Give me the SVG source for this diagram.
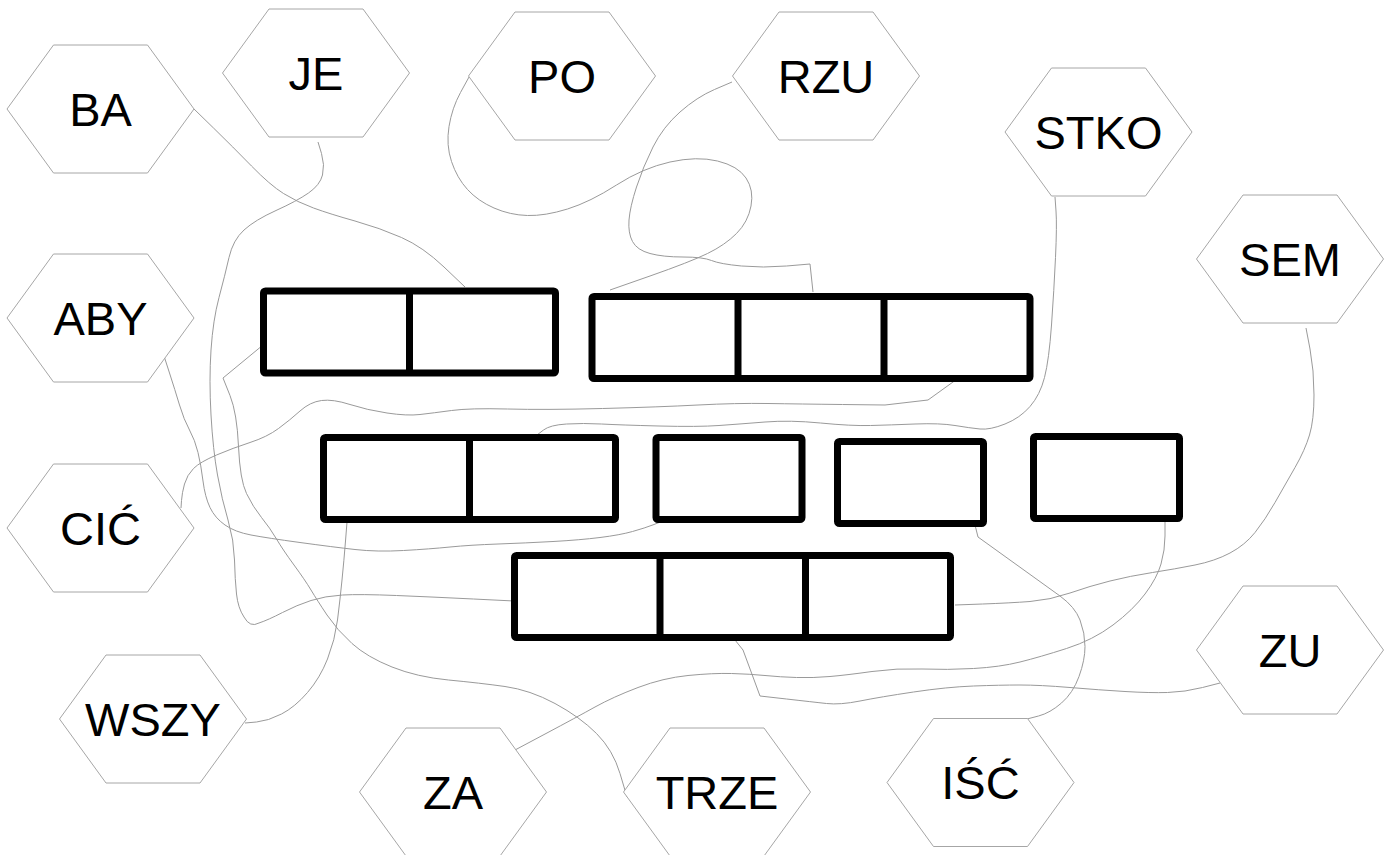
<svg xmlns="http://www.w3.org/2000/svg" width="1392" height="855" viewBox="0 0 1392 855">
<style>
.hex{fill:#fff;stroke:#a6a6a6;stroke-width:1}
.lbl{font-family:"Liberation Sans",Arial,sans-serif;font-size:47px;fill:#000;text-anchor:middle}
.box{fill:#fff;stroke:#000;stroke-width:7;stroke-linejoin:round}
.div{stroke:#000;stroke-width:7}
.con{fill:none;stroke:#9a9a9a;stroke-width:1;stroke-linejoin:round}
</style>
<defs>
<polygon id="hx" points="-93.5,0 -47,-64 47,-64 93.5,0 47,64 -47,64"/>
</defs>
<rect width="1392" height="855" fill="#fff"/>
<g id="connectors">
<path class="con" d="M194,109 L213.5,128 Q233,147 251.5,166 Q270,185 283.5,193.5 Q297,202 313.5,208 Q330,214 355,221 Q380,228 401.5,237.5 Q423,247 444,267 L465,287"/>
<path class="con" d="M318,142 L321.5,153.5 Q325,165 322.5,175 Q320,185 308.5,193 Q297,201 276,210.5 Q255,220 244,230 Q233,240 229,257.5 Q225,275 219,297.5 Q213,320 211,350 Q209,380 211,415 Q213,450 217.5,475 Q222,500 228,520 Q234,540 234.5,560 Q235,580 236.5,594 Q238,608 244,617 Q250,628 259,623 Q268,620 282.5,612.5 Q297,605 311,600.5 Q325,596 342.5,595 Q360,594 396.5,595.5 Q433,597 473.5,599 L514,601"/>
<path class="con" d="M469,77 L460.5,92.5 Q452,108 449,126.5 Q446,145 451.5,161.5 Q457,178 467.5,189.5 Q478,201 494,208 Q510,215 527.5,215.5 Q545,216 567.5,209 Q590,202 616.5,185 Q643,168 670,162 Q697,156 717.5,161 Q738,166 746,178 Q754,190 751,206 Q748,222 736.5,233.5 Q725,245 707.5,253.5 Q690,262 650,276 L610,290"/>
<path class="con" d="M732,82 L714.5,89.5 Q697,97 680,112 Q663,127 653,147 Q643,167 636.5,187 Q630,207 629,220 Q628,233 632.5,241.5 Q637,250 650,253.5 Q663,257 683,257 Q703,257 711.5,260.5 Q720,264 741.5,266 Q763,268 786.5,266 L810,264 L813,292"/>
<path class="con" d="M1055,197 L1056,211 Q1057,225 1055.5,257.5 Q1054,290 1051.5,325 Q1049,360 1044.5,377.5 Q1040,395 1030,406.5 Q1020,418 1005,424 Q990,430 980,429 Q970,428 955,425.5 Q940,423 915,424 Q890,425 870.5,425.5 Q851,426 820.5,423 Q790,420 765,422 Q740,424 719,425.5 Q698,427 659,426 Q620,425 601.5,424 Q583,423 566.5,424 Q550,425 543.5,430 L537,435"/>
<path class="con" d="M965,373 L953,382 L928,400 L885,405 L842.5,404.5 Q800,404 768,403.5 Q736,403 698,405 Q660,407 602.5,408.5 Q545,410 507.5,409 Q470,408 451.5,410.5 Q433,413 420,414.5 Q407,416 387,413 Q367,410 350,404.5 Q333,399 321.5,400.5 Q310,402 300,411 Q290,420 278.5,428.5 Q267,437 250,442.5 Q233,448 216.5,455 Q200,462 193.5,468.5 Q187,475 184.5,484 Q182,493 181.5,500.5 L181,508"/>
<path class="con" d="M1306,328 L1310,349 Q1314,370 1314,395 Q1314,420 1309.5,435 Q1305,450 1295,467.5 Q1285,485 1275,502.5 Q1265,520 1255,532.5 Q1245,545 1230,553 Q1215,561 1195,565 Q1175,569 1152.5,572.5 Q1130,576 1110,581 Q1090,586 1070,593 Q1050,600 1030,601.5 Q1010,603 982.5,604 L955,605"/>
<path class="con" d="M164,356 L169.5,373 Q175,390 179.5,405 Q184,420 189.5,430 Q195,440 198,452.5 Q201,465 203,481 Q205,497 210,507.5 Q215,518 225,525 Q235,532 251,535 Q267,538 300,542.5 Q333,547 355,549.5 Q377,552 403.5,550.5 Q430,549 450,547 Q470,545 498,544 Q526,543 553,541.5 Q580,540 600,537.5 Q620,535 632.5,531.5 Q645,528 654,524.5 L663,521"/>
<path class="con" d="M347,522 L345.5,541 Q344,560 342,580 Q340,600 337.5,620 Q335,640 327.5,659 Q320,678 307.5,692.5 Q295,707 281.5,714 Q268,721 256.5,722 L245,723"/>
<path class="con" d="M263,345 L223,378 L230,395.5 Q237,413 238.5,446.5 Q240,480 246.5,493.5 Q253,507 261.5,517.5 Q270,528 276.5,539 Q283,550 294,565 Q305,580 311,590 Q317,600 327,615 Q337,630 352,643.5 Q367,657 392,667 Q417,677 448.5,680 Q480,683 505,686.5 Q530,690 555,703.5 Q580,717 596.5,733.5 Q613,750 620,773.5 L627,797"/>
<path class="con" d="M1165,522 L1165,536 Q1165,550 1161,564 Q1157,578 1145,594 Q1133,610 1113,625 Q1093,640 1066.5,648.5 Q1040,657 1020,662 Q1000,667 973.5,668.5 Q947,670 922,669 Q897,668 872,671.5 Q847,675 830,676.5 Q813,678 796.5,677.5 Q780,677 765,675.5 Q750,674 731.5,673.5 Q713,673 688,675.5 Q663,678 638,687.5 Q613,697 595,707 Q577,717 546,733.5 L515,750"/>
<path class="con" d="M1027,719 L1038.5,716 Q1050,713 1061.5,703 Q1073,693 1079,676.5 Q1085,660 1085,646.5 Q1085,633 1080,620 Q1075,607 1060,596 L978,537 L975,525"/>
<path class="con" d="M1220,683 L1202.5,687.5 Q1185,692 1167.5,692.5 Q1150,693 1125,691.5 Q1100,690 1070,687.5 Q1040,685 1020,685 Q1000,685 973.5,686 Q947,687 913.5,692 Q880,697 860,701 Q840,705 826.5,703.5 Q813,702 786.5,699 L760,696 L753,677 L743,650 L735,640"/>
</g>
<g id="hex-BA"><use href="#hx" class="hex" x="100.5" y="109"/><text class="lbl" x="100.5" y="126">BA</text></g>
<g id="hex-JE"><use href="#hx" class="hex" x="316" y="73"/><text class="lbl" x="316" y="90">JE</text></g>
<g id="hex-PO"><use href="#hx" class="hex" x="562" y="76"/><text class="lbl" x="562" y="93">PO</text></g>
<g id="hex-RZU"><use href="#hx" class="hex" x="826" y="76"/><text class="lbl" x="826" y="93">RZU</text></g>
<g id="hex-STKO"><use href="#hx" class="hex" x="1098.5" y="132"/><text class="lbl" x="1098.5" y="149">STKO</text></g>
<g id="hex-SEM"><use href="#hx" class="hex" x="1290" y="259"/><text class="lbl" x="1290" y="276">SEM</text></g>
<g id="hex-ABY"><use href="#hx" class="hex" x="100.5" y="318"/><text class="lbl" x="100.5" y="335">ABY</text></g>
<g id="hex-CIC"><use href="#hx" class="hex" x="100.5" y="528"/><text class="lbl" x="100.5" y="545">CIĆ</text></g>
<g id="hex-WSZY"><use href="#hx" class="hex" x="153" y="719"/><text class="lbl" x="153" y="736">WSZY</text></g>
<g id="hex-ZA"><use href="#hx" class="hex" x="453" y="792"/><text class="lbl" x="453" y="809">ZA</text></g>
<g id="hex-TRZE"><use href="#hx" class="hex" x="717" y="792"/><text class="lbl" x="717" y="809">TRZE</text></g>
<g id="hex-ISC"><use href="#hx" class="hex" x="980.5" y="782.5"/><text class="lbl" x="980.5" y="799">IŚĆ</text></g>
<g id="hex-ZU"><use href="#hx" class="hex" x="1290" y="650"/><text class="lbl" x="1290" y="667">ZU</text></g>
<g id="box-A"><rect class="box" x="263.5" y="291" width="292" height="82" rx="2"/><line class="div" x1="409.5" y1="291" x2="409.5" y2="373"/></g>
<g id="box-B"><rect class="box" x="592" y="296.5" width="438" height="82" rx="2"/><line class="div" x1="738" y1="296.5" x2="738" y2="378.5"/><line class="div" x1="884" y1="296.5" x2="884" y2="378.5"/></g>
<g id="box-C"><rect class="box" x="323.5" y="437.5" width="292" height="82" rx="2"/><line class="div" x1="469.5" y1="437.5" x2="469.5" y2="519.5"/></g>
<g id="box-D"><rect class="box" x="656" y="437.5" width="146" height="82" rx="2"/></g>
<g id="box-E"><rect class="box" x="837.5" y="441.5" width="146" height="82" rx="2"/></g>
<g id="box-F"><rect class="box" x="1033.5" y="436.5" width="146" height="82" rx="2"/></g>
<g id="box-G"><rect class="box" x="514.5" y="555.5" width="436" height="82" rx="2"/><line class="div" x1="660" y1="555.5" x2="660" y2="637.5"/><line class="div" x1="805.5" y1="555.5" x2="805.5" y2="637.5"/></g>
</svg>
